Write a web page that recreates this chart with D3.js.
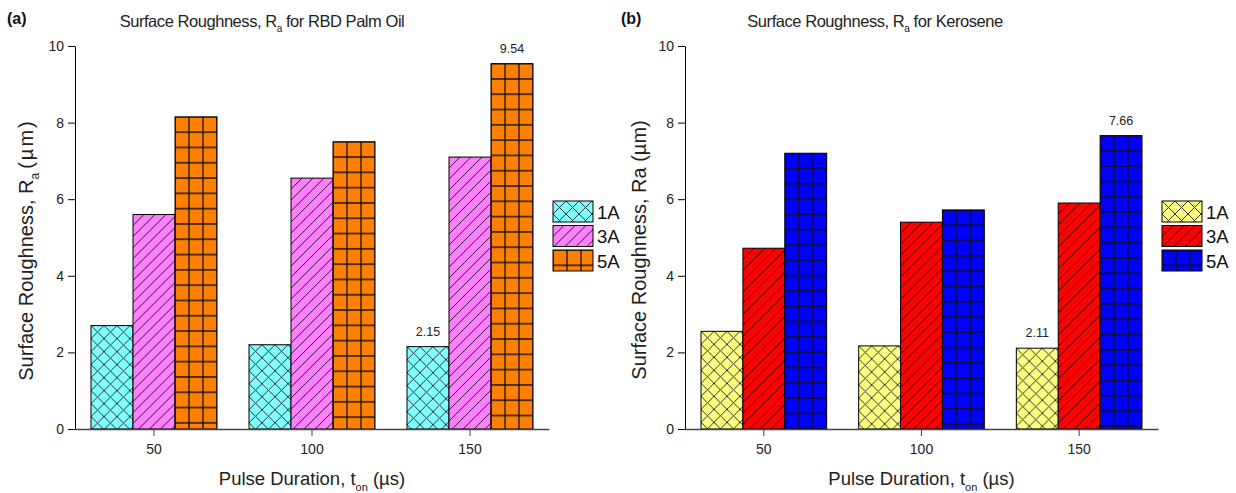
<!DOCTYPE html>
<html>
<head>
<meta charset="utf-8">
<script src="https://cdn.jsdelivr.net/npm/d3@7"></script>
<style>
  body { margin: 0; background: #fff; }
  text { font-family: 'Liberation Sans', Arial, sans-serif; }
</style>
</head>
<body>
<div id="chart"></div>
<script>
// data
const categories = ['50', '100', '150']
const series = ['1A', '3A', '5A']
const yTicks = [0, 2, 4, 6, 8, 10]

// RBD palm oil
const palm1A = [2.7, 2.2, 2.15]
const palm3A = [5.6, 6.55, 7.1]
const palm5A = [8.15, 7.5, 9.54]

// kerosene
const kero1A = [2.55, 2.17, 2.11]
const kero3A = [4.72, 5.4, 5.9]
const kero5A = [7.2, 5.72, 7.66]

const palmColors = ['#80ffff', '#ff80ff', '#ff8000']
const keroColors = ['#ffff80', '#ff0000', '#0000ff']

// bars that carry a value label: [series index, category index]
const labelled = [[0, 2], [2, 2]]

const config = {
  width: 1236,
  height: 493,
  top: 46,
  bottom: 429,
  legendW: 40,
  legendH: 21,
  legendStep: 24.5
}

const panels = [
  { key: 'palm', letter: '(a)', letterX: 7, title: ' for RBD Palm Oil', titleX: 262,
    x0: 75, x1: 549, values: [palm1A, palm3A, palm5A], colors: palmColors,
    yTitleX: 33, ySub: true, legendX: 553, legendY: 201 },
  { key: 'kero', letter: '(b)', letterX: 621, title: ' for Kerosene', titleX: 875,
    x0: 685, x1: 1158, values: [kero1A, kero3A, kero5A], colors: keroColors,
    yTitleX: 646, ySub: false, legendX: 1162, legendY: 201 }
]

const svg = d3.select('#chart').append('svg')
    .attr('width', config.width)
    .attr('height', config.height)

svg.append('rect').attr('width', config.width).attr('height', config.height).attr('fill', '#fff')

const defs = svg.append('defs')

// patterns are userSpaceOnUse, every bar sits in a translated group so they start at its top-left corner
function makePatterns(key, colors) {
  const cross = defs.append('pattern').attr('id', key + '-0')
      .attr('patternUnits', 'userSpaceOnUse').attr('width', 13).attr('height', 13)
  cross.append('rect').attr('width', 13).attr('height', 13).attr('fill', colors[0])
  cross.append('path').attr('d', 'M-1,-1L14,14M-1,14L14,-1')
      .attr('stroke', '#333').attr('stroke-width', 1).attr('fill', 'none')

  const diag = defs.append('pattern').attr('id', key + '-1')
      .attr('patternUnits', 'userSpaceOnUse').attr('width', 11).attr('height', 11)
  diag.append('rect').attr('width', 11).attr('height', 11).attr('fill', colors[1])
  diag.append('path').attr('d', 'M-1,12L12,-1M-3,2L2,-3M9,14L14,9')
      .attr('stroke', '#111').attr('stroke-width', 0.9).attr('fill', 'none')

  const grid = defs.append('pattern').attr('id', key + '-2')
      .attr('patternUnits', 'userSpaceOnUse').attr('width', 14).attr('height', 15.3)
  grid.append('rect').attr('width', 14).attr('height', 15.3).attr('fill', colors[2])
  grid.append('path').attr('d', 'M0,0H14M0,15.3H14M0,0V15.3M14,0V15.3')
      .attr('stroke', '#111').attr('stroke-width', 1.3).attr('fill', 'none')
}

const y = d3.scaleLinear().domain([0, 10]).range([config.bottom, config.top])

panels.forEach(p => {
  makePatterns(p.key, p.colors)

  const x = d3.scaleBand().domain(categories).range([p.x0, p.x1]).padding(0)
  const xs = d3.scaleBand().domain(series).range([16, x.bandwidth() - 16]).padding(0)

  // panel letter
  svg.append('text')
      .attr('x', p.letterX).attr('y', 24)
      .attr('font-size', 16).attr('font-weight', 'bold').attr('fill', '#111')
      .text(p.letter)

  // title
  const title = svg.append('text')
      .attr('x', p.titleX).attr('y', 27)
      .attr('text-anchor', 'middle').attr('font-size', 16.5).attr('letter-spacing', -0.45).attr('fill', '#222')
  title.append('tspan').text('Surface Roughness, R')
  title.append('tspan').attr('font-size', 10).attr('dy', 5).text('a')
  title.append('tspan').attr('dy', -5).text(p.title)

  // bars
  const g = svg.append('g')
  p.values.forEach((vals, i) => {
    vals.forEach((v, j) => {
      const bx = x(categories[j]) + xs(series[i])
      const bar = g.append('g').attr('transform', `translate(${bx}, ${y(v)})`)
      bar.append('rect')
          .attr('width', xs.bandwidth())
          .attr('height', y(0) - y(v))
          .attr('fill', `url(#${p.key}-${i})`)
          .attr('stroke', '#000').attr('stroke-width', 1)
    })
  })

  // value labels
  labelled.forEach(([i, j]) => {
    const v = p.values[i][j]
    svg.append('text')
        .attr('x', x(categories[j]) + xs(series[i]) + xs.bandwidth() / 2)
        .attr('y', y(v) - 11)
        .attr('text-anchor', 'middle').attr('font-size', 12.5).attr('fill', '#222')
        .text(v.toFixed(2))
  })

  // y axis
  const yAxis = svg.append('g')
      .attr('transform', `translate(${p.x0}, 0)`)
      .call(d3.axisLeft(y).tickValues(yTicks).tickSize(7).tickSizeOuter(0).tickPadding(4))
  yAxis.select('.domain').attr('stroke', '#000')
  yAxis.selectAll('.tick line').attr('stroke', '#000')
  yAxis.selectAll('.tick text').attr('font-size', 14).attr('fill', '#222')
      .style('font-family', "'Liberation Sans', Arial, sans-serif")

  // x axis
  const xAxis = svg.append('g')
      .attr('transform', `translate(0, ${config.bottom})`)
      .call(d3.axisBottom(x).tickSize(7).tickSizeOuter(0).tickPadding(8))
  xAxis.select('.domain').attr('stroke', '#444').attr('stroke-width', 1.5)
  xAxis.selectAll('.tick line').attr('stroke', '#444')
  xAxis.selectAll('.tick text').attr('font-size', 14).attr('fill', '#222')
      .style('font-family', "'Liberation Sans', Arial, sans-serif")

  // x title
  const xt = svg.append('text')
      .attr('x', (p.x0 + p.x1) / 2).attr('y', 485)
      .attr('text-anchor', 'middle').attr('font-size', 18.5).attr('fill', '#222')
  xt.append('tspan').text('Pulse Duration, t')
  xt.append('tspan').attr('font-size', 11).attr('dy', 6).text('on')
  xt.append('tspan').attr('dy', -6).text(' (\u00b5s)')

  // y title
  const yt = svg.append('text')
      .attr('transform', `translate(${p.yTitleX}, 250) rotate(-90)`)
      .attr('text-anchor', 'middle').attr('font-size', 20).attr('fill', '#222')
  if (p.ySub) {
    yt.append('tspan').text('Surface Roughness, R')
    yt.append('tspan').attr('font-size', 12).attr('dy', 6).text('a')
    yt.append('tspan').attr('dy', -6).attr('dx', 4).attr('letter-spacing', 2).text('(\u00b5m)')
  } else {
    yt.text('Surface Roughness, Ra (\u00b5m)')
  }

  // legend
  series.forEach((s, i) => {
    const ly = p.legendY + i * config.legendStep
    const item = svg.append('g').attr('transform', `translate(${p.legendX}, ${ly})`)
    item.append('rect')
        .attr('width', config.legendW).attr('height', config.legendH)
        .attr('fill', `url(#${p.key}-${i})`)
        .attr('stroke', '#000').attr('stroke-width', 1)
    item.append('text')
        .attr('x', config.legendW + 4).attr('y', config.legendH / 2 + 7)
        .attr('font-size', 18.5).attr('fill', '#111')
        .text(s)
  })
})
</script>
</body>
</html>
